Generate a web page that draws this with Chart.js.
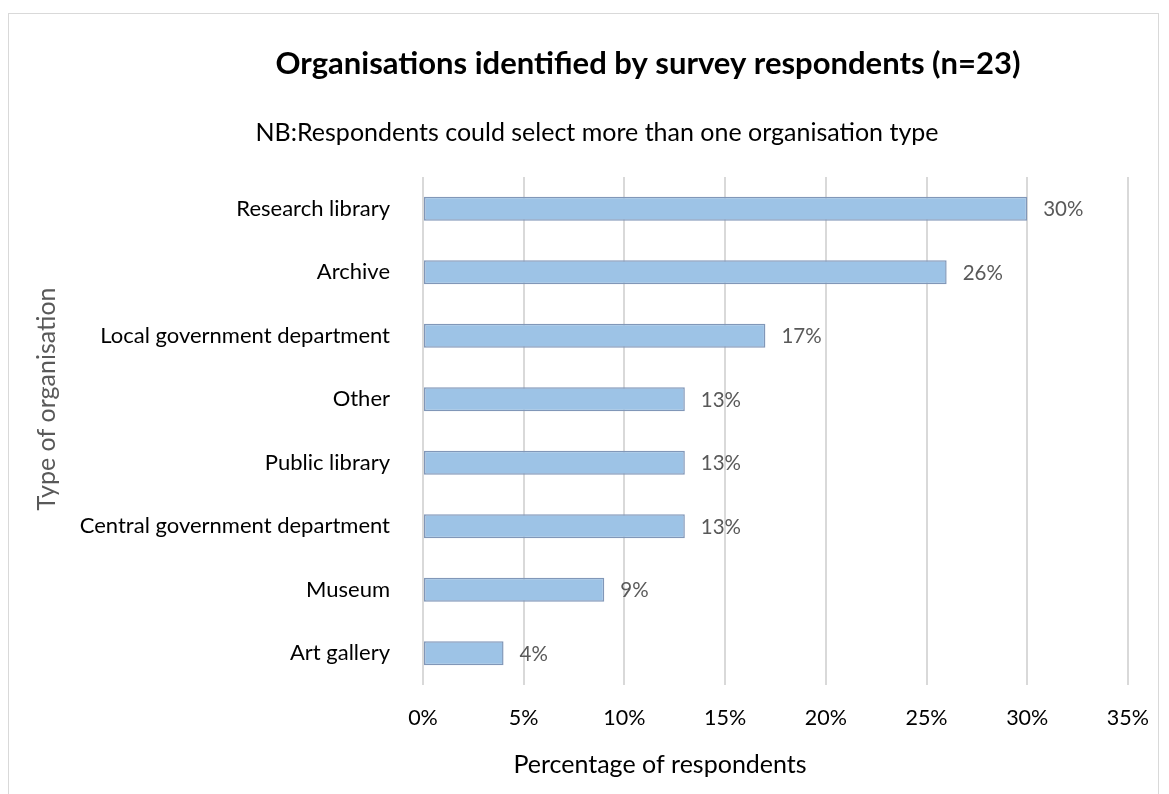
<!DOCTYPE html>
<html>
<head>
<meta charset="utf-8">
<script src="https://cdn.jsdelivr.net/npm/chart.js@4/dist/chart.umd.min.js"></script>
<style>
  html, body { margin: 0; padding: 0; background: #fff; }
  #wrap { position: relative; width: 1169px; height: 794px; overflow: hidden; }
  #frame {
    position: absolute; left: 8px; top: 13px; width: 1151px; height: 800px;
    border: 1px solid #d9d9d9; box-sizing: border-box;
  }
  canvas { position: absolute; left: 0; top: 0; }
</style>
</head>
<body>
<div id="wrap">
  <div id="frame"></div>
  <canvas id="chart" width="1169" height="794"></canvas>
</div>
<script>
// ── Data ──────────────────────────────────────────────────────────────────────
var categories = [
  'Research library',
  'Archive',
  'Local government department',
  'Other',
  'Public library',
  'Central government department',
  'Museum',
  'Art gallery'
];
var percentages = [30, 26, 17, 13, 13, 13, 9, 4];
var xTicks = [0, 5, 10, 15, 20, 25, 30, 35];

var titleText = 'Organisations identified by survey respondents (n=23)';
var subtitleText = 'NB:Respondents could select more than one organisation type';
var xTitleText = 'Percentage of respondents';
var yTitleText = 'Type of organisation';

var FONT = 'Lato, "Open Sans", sans-serif';

// ── Plugins ──────────────────────────────────────────────────────────────────
// titles drawn by hand: in the original they are not centred on the plot area
var headerPlugin = {
  id: 'header',
  afterDraw: function (chart) {
    var ctx = chart.ctx;
    ctx.save();
    ctx.textAlign = 'center';
    ctx.textBaseline = 'alphabetic';
    ctx.fillStyle = '#000';
    ctx.font = 'bold 31px ' + FONT;
    ctx.fillText(titleText, 648, 74);
    ctx.font = '25px ' + FONT;
    ctx.fillText(subtitleText, 597, 141);

    // axis titles
    ctx.font = '25px ' + FONT;
    ctx.fillText(xTitleText, 660, 773);

    ctx.translate(55, 399);
    ctx.rotate(-Math.PI / 2);
    ctx.fillStyle = '#595959';
    ctx.fillText(yTitleText, 0, 0);
    ctx.restore();
  }
};

// value labels to the right of each bar
var valueLabels = {
  id: 'valueLabels',
  afterDatasetsDraw: function (chart) {
    var ctx = chart.ctx;
    var meta = chart.getDatasetMeta(0);
    ctx.save();
    ctx.font = '20.5px ' + FONT;
    ctx.fillStyle = '#595959';
    ctx.textAlign = 'left';
    ctx.textBaseline = 'middle';
    meta.data.forEach(function (bar, i) {
      ctx.fillText(percentages[i] + '%', bar.x + 16, bar.y + 1);
    });
    ctx.restore();
  }
};

new Chart(document.getElementById('chart').getContext('2d'), {
  type: 'bar',
  data: {
    labels: categories,
    datasets: [{
      data: percentages,
      backgroundColor: '#9DC3E6',
      borderColor: '#8197B8',
      borderWidth: 1.5,
      borderSkipped: false,
      barPercentage: 0.38,
      categoryPercentage: 1
    }]
  },
  options: {
    indexAxis: 'y',
    responsive: false,
    animation: false,
    layout: { padding: { top: 177, right: 38, left: 0, bottom: 0 } },
    plugins: {
      legend: { display: false },
      tooltip: { enabled: false }
    },
    scales: {
      x: {
        min: 0,
        max: 35,
        afterBuildTicks: function (scale) {
          scale.ticks = xTicks.map(function (v) { return { value: v }; });
        },
        afterFit: function (scale) { scale.height = 109; },
        ticks: {
          color: '#000',
          font: { family: FONT, size: 21.5 },
          padding: 20,
          callback: function (v) { return v + '%'; }
        },
        grid: { color: '#d9d9d9', lineWidth: 2, drawTicks: false },
        border: { display: false }
      },
      y: {
        afterFit: function (scale) { scale.width = 423; },
        ticks: {
          color: '#000',
          font: { family: FONT, size: 22 },
          padding: 33
        },
        grid: { display: false, drawTicks: false },
        border: { display: false }
      }
    }
  },
  plugins: [headerPlugin, valueLabels]
});
</script>
</body>
</html>
